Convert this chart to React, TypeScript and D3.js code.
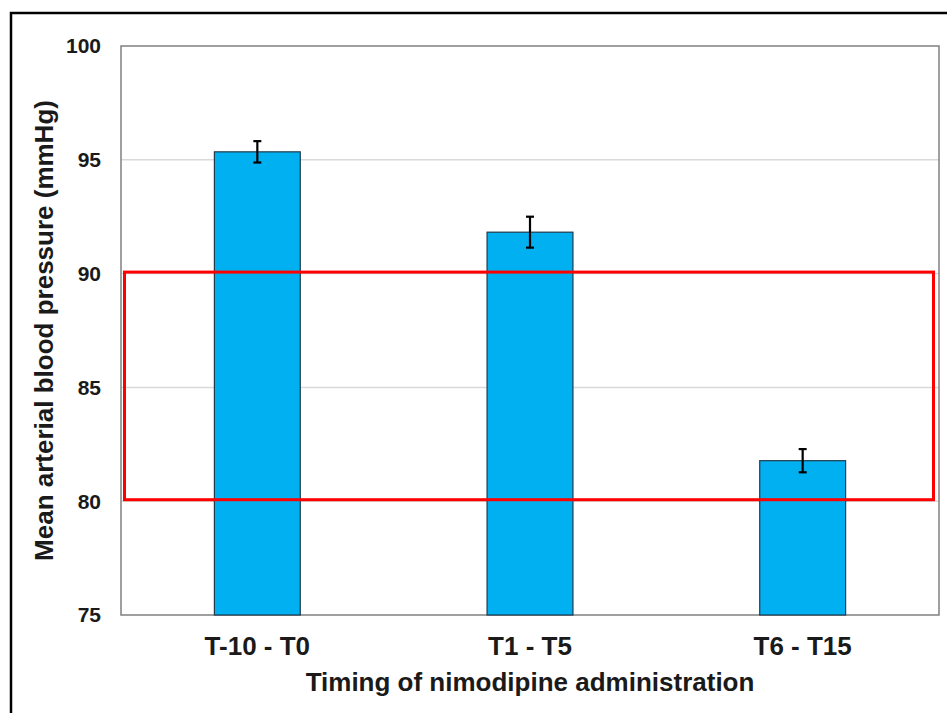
import * as d3 from "d3";

const categories = ["T-10 - T0", "T1 - T5", "T6 - T15"];
const means = [95.35, 91.82, 81.78];
const errors = [0.47, 0.68, 0.51];
const yTicks = [75, 80, 85, 90, 95, 100];
const gridTicks = [80, 85, 90, 95];
const highlightRange = [80, 90];

const W = 947;
const H = 713;
const margin = { top: 46, right: 8, bottom: 98, left: 121 };
const font = "'Liberation Sans', Arial, Helvetica, sans-serif";

export default function App() {
  const x = d3
    .scaleBand<string>()
    .domain(categories)
    .range([margin.left, W - margin.right])
    .padding(0);
  const y = d3
    .scaleLinear()
    .domain([75, 100])
    .range([H - margin.bottom, margin.top]);

  const barW = x.bandwidth() * 0.315;
  const capW = 8;
  const plotL = margin.left;
  const plotR = W - margin.right;
  const plotT = margin.top;
  const plotB = H - margin.bottom;
  const midY = (plotT + plotB) / 2;
  const midX = (plotL + plotR) / 2;

  return (
    <svg
      width={W}
      height={H}
      style={{ position: "absolute", left: 0, top: 0, background: "#fff" }}
      fontFamily={font}
      fontWeight="bold"
    >
      {/* outer frame */}
      <rect x={11} y={13} width={W + 20} height={H + 20} fill="none" stroke="#000" strokeWidth={2.5} />

      {/* gridlines */}
      {gridTicks.map((t) => (
        <line key={t} x1={plotL} x2={plotR} y1={y(t)} y2={y(t)} stroke="#d9d9d9" strokeWidth={1.5} />
      ))}

      {/* plot frame */}
      <rect x={plotL} y={plotT} width={plotR - plotL} height={plotB - plotT} fill="none" stroke="#808080" strokeWidth={1.5} />

      {/* bars */}
      {categories.map((c, i) => {
        const cx = (x(c) as number) + x.bandwidth() / 2;
        return (
          <g key={c}>
            <rect
              x={cx - barW / 2}
              y={y(means[i])}
              width={barW}
              height={y(75) - y(means[i])}
              fill="#00B0F0"
              stroke="#1f3b4f"
              strokeWidth={1.2}
            />
            <line x1={cx} x2={cx} y1={y(means[i] + errors[i])} y2={y(means[i] - errors[i])} stroke="#000" strokeWidth={2.2} />
            <line x1={cx - capW / 2} x2={cx + capW / 2} y1={y(means[i] + errors[i])} y2={y(means[i] + errors[i])} stroke="#000" strokeWidth={2.2} />
            <line x1={cx - capW / 2} x2={cx + capW / 2} y1={y(means[i] - errors[i])} y2={y(means[i] - errors[i])} stroke="#000" strokeWidth={2.2} />
          </g>
        );
      })}

      {/* highlight box */}
      <rect
        x={plotL + 3.5}
        y={y(highlightRange[1]) - 1.5}
        width={plotR - plotL - 9}
        height={y(highlightRange[0]) - y(highlightRange[1])}
        fill="none"
        stroke="#ff0000"
        strokeWidth={3}
      />

      {/* y tick labels */}
      {yTicks.map((t) => (
        <text key={t} x={101} y={y(t)} dy="0.35em" textAnchor="end" fontSize={21} fill="#1a1a1a">
          {t}
        </text>
      ))}

      {/* category labels */}
      {categories.map((c) => (
        <text key={c} x={(x(c) as number) + x.bandwidth() / 2} y={655} textAnchor="middle" fontSize={26} fill="#1a1a1a">
          {c}
        </text>
      ))}

      {/* axis titles */}
      <text x={midX} y={691} textAnchor="middle" fontSize={26} fill="#1a1a1a">
        Timing of nimodipine administration
      </text>
      <text transform={`translate(53,${midY}) rotate(-90)`} textAnchor="middle" fontSize={26} fill="#1a1a1a">
        Mean arterial blood pressure (mmHg)
      </text>
    </svg>
  );
}
